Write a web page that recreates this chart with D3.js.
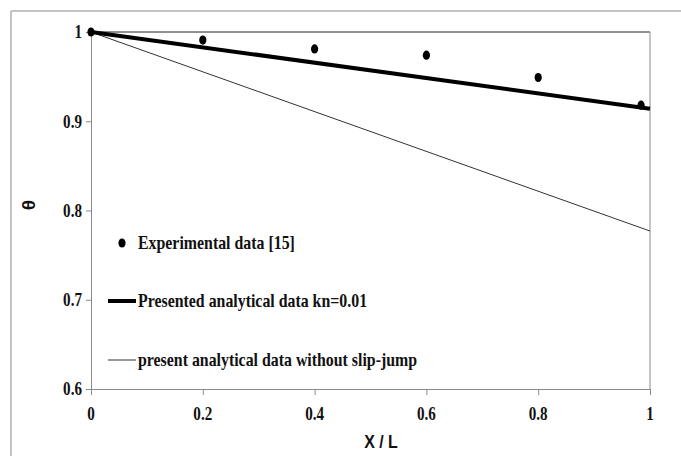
<!DOCTYPE html>
<meta charset="utf-8">
<body style="margin:0;background:#fff">
<script src="https://d3js.org/d3.v7.min.js"></script>
<style>
  body { margin: 0; }
  .tick-label { font: bold 18px "Liberation Serif", "Times New Roman", serif; fill: #111; }
  .legend-text { font: bold 19px "Liberation Serif", "Times New Roman", serif; fill: #111; }
  .axis-title { font: bold 19px "Liberation Sans", Arial, sans-serif; fill: #111; }
</style>
<script>
// data
var expX = [0, 0.2, 0.4, 0.6, 0.8, 0.984];
var expTheta = [1, 0.991, 0.981, 0.974, 0.949, 0.918];

var slipX = [0, 1];
var slipTheta = [1, 0.914];

var noSlipX = [0, 1];
var noSlipTheta = [1, 0.777];

var xTicks = [0, 0.2, 0.4, 0.6, 0.8, 1];
var yTicks = [0.6, 0.7, 0.8, 0.9, 1];

var legendLabels = ["Experimental data [15]", "Presented analytical data kn=0.01", "present analytical data without slip-jump"];

var W = 681, H = 456;
var sx = 0.84; // the original picture is squeezed sideways

var svg = d3.select("body").append("svg")
    .attr("width", W)
    .attr("height", H);

// outer frame (left and top only are visible)
svg.append("line").attr("x1", 11).attr("y1", 11).attr("x2", 11).attr("y2", H).attr("stroke", "#8a8a8a");
svg.append("line").attr("x1", 11).attr("y1", 11).attr("x2", W).attr("y2", 11).attr("stroke", "#8a8a8a");

var x = d3.scaleLinear().domain([0, 1]).range([91, 650]);
var y = d3.scaleLinear().domain([0.6, 1]).range([389, 32]);

function squeezed(sel, px, py, s) {
  return sel.attr("x", 0).attr("y", 0)
    .attr("transform", "translate(" + px + "," + py + ") scale(" + (s || sx) + ",1)");
}

// plot box: top black, right grey
svg.append("line").attr("x1", x(0)).attr("x2", x(1)).attr("y1", y(1)).attr("y2", y(1))
    .attr("stroke", "#222").attr("stroke-width", 1);
svg.append("line").attr("x1", x(1)).attr("x2", x(1)).attr("y1", y(1)).attr("y2", y(0.6))
    .attr("stroke", "#8a8a8a").attr("stroke-width", 1);

// axes
var xAxis = svg.append("g")
    .attr("transform", "translate(0," + y(0.6) + ")")
    .call(d3.axisBottom(x).tickValues(xTicks).tickSize(6).tickFormat(""));
var yAxis = svg.append("g")
    .attr("transform", "translate(" + x(0) + ",0)")
    .call(d3.axisLeft(y).tickValues(yTicks).tickSize(5).tickFormat(""));
[xAxis, yAxis].forEach(function(a) {
  a.selectAll("path, line").attr("stroke", "#8a8a8a");
});

// tick labels
xTicks.forEach(function(t) {
  squeezed(svg.append("text").attr("class", "tick-label").attr("text-anchor", "middle"), x(t), 420)
    .text(d3.format("")(t));
});
yTicks.forEach(function(t) {
  squeezed(svg.append("text").attr("class", "tick-label").attr("text-anchor", "end").attr("dy", "0.35em"), 82, y(t))
    .text(d3.format("")(t));
});

// axis titles
squeezed(svg.append("text").attr("class", "axis-title").attr("text-anchor", "middle"), 381, 448)
    .text("X / L");
svg.append("text").attr("class", "axis-title")
    .attr("text-anchor", "middle")
    .attr("transform", "translate(35,205) rotate(-90)")
    .text("θ");

// lines
var line = d3.line().x(function(d) { return x(d[0]); }).y(function(d) { return y(d[1]); });

svg.append("path")
    .datum(noSlipX.map(function(v, i) { return [v, noSlipTheta[i]]; }))
    .attr("d", line).attr("fill", "none").attr("stroke", "#333").attr("stroke-width", 1);

svg.append("path")
    .datum(slipX.map(function(v, i) { return [v, slipTheta[i]]; }))
    .attr("d", line).attr("fill", "none").attr("stroke", "#000").attr("stroke-width", 4);

// experimental points
svg.selectAll(".pt")
    .data(expX.map(function(v, i) { return [v, expTheta[i]]; }))
    .enter().append("ellipse")
    .attr("class", "pt")
    .attr("cx", function(d) { return x(d[0]); })
    .attr("cy", function(d) { return y(d[1]); })
    .attr("rx", 3.6).attr("ry", 4.6)
    .attr("fill", "#000");

// legend
var legY = [243, 301, 360];
svg.append("ellipse").attr("cx", 122).attr("cy", legY[0]).attr("rx", 3.6).attr("ry", 4.6).attr("fill", "#000");
svg.append("line").attr("x1", 108).attr("x2", 136).attr("y1", legY[1]).attr("y2", legY[1])
    .attr("stroke", "#000").attr("stroke-width", 4);
svg.append("line").attr("x1", 108).attr("x2", 136).attr("y1", legY[2]).attr("y2", legY[2])
    .attr("stroke", "#333").attr("stroke-width", 1);
legendLabels.forEach(function(lab, i) {
  squeezed(svg.append("text").attr("class", "legend-text").attr("dy", "0.32em"), 138, legY[i], 0.835)
    .text(lab);
});
</script>
</body>
